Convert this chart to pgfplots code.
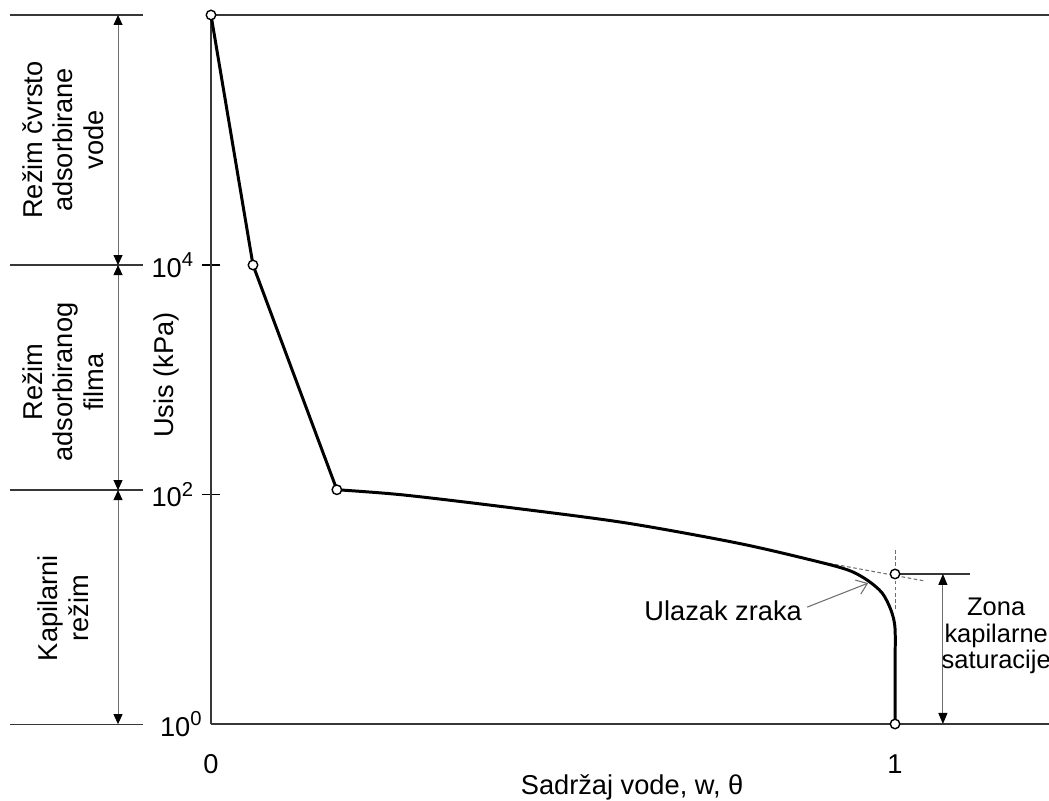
\documentclass[border=0pt]{standalone}
\usepackage{pgfplots}
\pgfplotsset{compat=1.18}
\usepackage{fontspec}
\setmainfont{Liberation Sans}
\usetikzlibrary{arrows.meta}
\definecolor{lineGray}{RGB}{55,55,55}
\definecolor{arrowGray}{RGB}{110,110,110}
\newcommand{\tenpow}[1]{10\raisebox{0.75ex}{\fontsize{11.5}{12}\selectfont #1}}

\begin{document}
\fontsize{15.5}{17.5}\selectfont
\begin{tikzpicture}
\begin{axis}[
  at={(4.22cm,1.54cm)}, anchor=south west,
  scale only axis, width=16.76cm, height=14.18cm,
  xmin=0, xmax=1.2251,
  ymode=log, ymin=1, ymax=1.509e6,
  axis x line*=bottom, axis y line*=left,
  axis line style={lineGray, line width=0.8pt},
  clip=false,
  xtick={0,1}, xticklabels={0,1},
  xtick style={draw=none},
  xticklabel style={yshift=-0.43cm},
  ytick={100,10000},
  yticklabels={\tenpow{2},\tenpow{4}},
  yminorticks=false,
  ytick align=center,
  major tick length=0.34cm,
  ytick style={black, line width=1pt},
  extra y ticks={1},
  extra y tick labels={\tenpow{0}},
  extra y tick style={major tick length=0pt},
]
% top border
\draw[lineGray, line width=0.8pt] (rel axis cs:0,1) -- (rel axis cs:1,1);

% tangent construction at the air entry point
\draw[arrowGray, line width=0.6pt, dash pattern=on 2pt off 1.5pt]
  (axis cs:0.877,26.9) -- (axis cs:1.044,17.6);
\draw[arrowGray, line width=0.6pt, dash pattern=on 2pt off 1.5pt]
  (axis cs:1,32.8) -- (axis cs:1,9.85);

% zone of capillary saturation
\draw[lineGray, line width=0.8pt] (axis cs:1,20.3) -- (axis cs:1.1096,20.3);
\draw[arrowGray, line width=0.6pt,
  {Triangle[length=0.22cm,width=0.18cm,black]}-{Triangle[length=0.22cm,width=0.18cm,black]}]
  (axis cs:1.070,20.3) -- (axis cs:1.070,1);

% retention curve
\addplot[black, line width=1.7pt] coordinates {
  (0,1.509e6) (0.0614,1e4) (0.184,110)
};
\addplot[black, line width=1.7pt, smooth, tension=0.5] coordinates {
  (0.184,110) (0.282,99) (0.444,76) (0.607,56.5) (0.769,37.8)
  (0.877,26.9) (0.931,22.0) (0.959,18.0) (0.981,13.9) (0.994,9.85)
  (1.0,6.8) (1.0,3) (1.0,1)
};
\addplot[only marks, mark=*, mark size=2.7pt,
  mark options={fill=white, draw=black, line width=0.8pt}] coordinates {
  (0,1.509e6) (0.0614,1e4) (0.184,110) (1,20.3) (1,1)
};
\end{axis}

\begin{scope}[x=0.02cm, y=-0.02cm, shift={(0,16.02cm)}]
  % regime boundaries
  \foreach \yy in {15,265,490,724}
    \draw[lineGray, line width=0.7pt] (10,\yy) -- (143,\yy);
  \foreach \ya/\yb in {15/265,265/490,490/724}
    \draw[arrowGray, line width=0.5pt,
      {Triangle[length=0.2cm,width=0.18cm,black]}-{Triangle[length=0.2cm,width=0.18cm,black]}]
      (118,\ya) -- (118,\yb);
  \node[rotate=90, align=center] at (63,140) {Režim čvrsto\\adsorbirane\\vode};
  \node[rotate=90, align=center] at (63,382) {Režim\\adsorbiranog\\filma};
  \node[rotate=90, align=center] at (63,608) {Kapilarni\\režim};
  % axis titles
  \node[rotate=90] at (166,375) {Usis (kPa)};
  \node at (632,787) {Sadržaj vode, w, θ};
  % air entry note
  \node at (723,611) {Ulazak zraka};
  \draw[arrowGray, line width=0.6pt, -{Straight Barb[length=0.2cm,width=0.3cm]}]
    (807,607) -- (868,583);
  \node[align=center, font=\fontsize{14.5}{15}\selectfont] at (996,636)
    {Zona\\kapilarne\\saturacije};
\end{scope}
\pgfresetboundingbox
\path (0,0) rectangle (20.98cm,16.02cm);
\end{tikzpicture}
\end{document}
